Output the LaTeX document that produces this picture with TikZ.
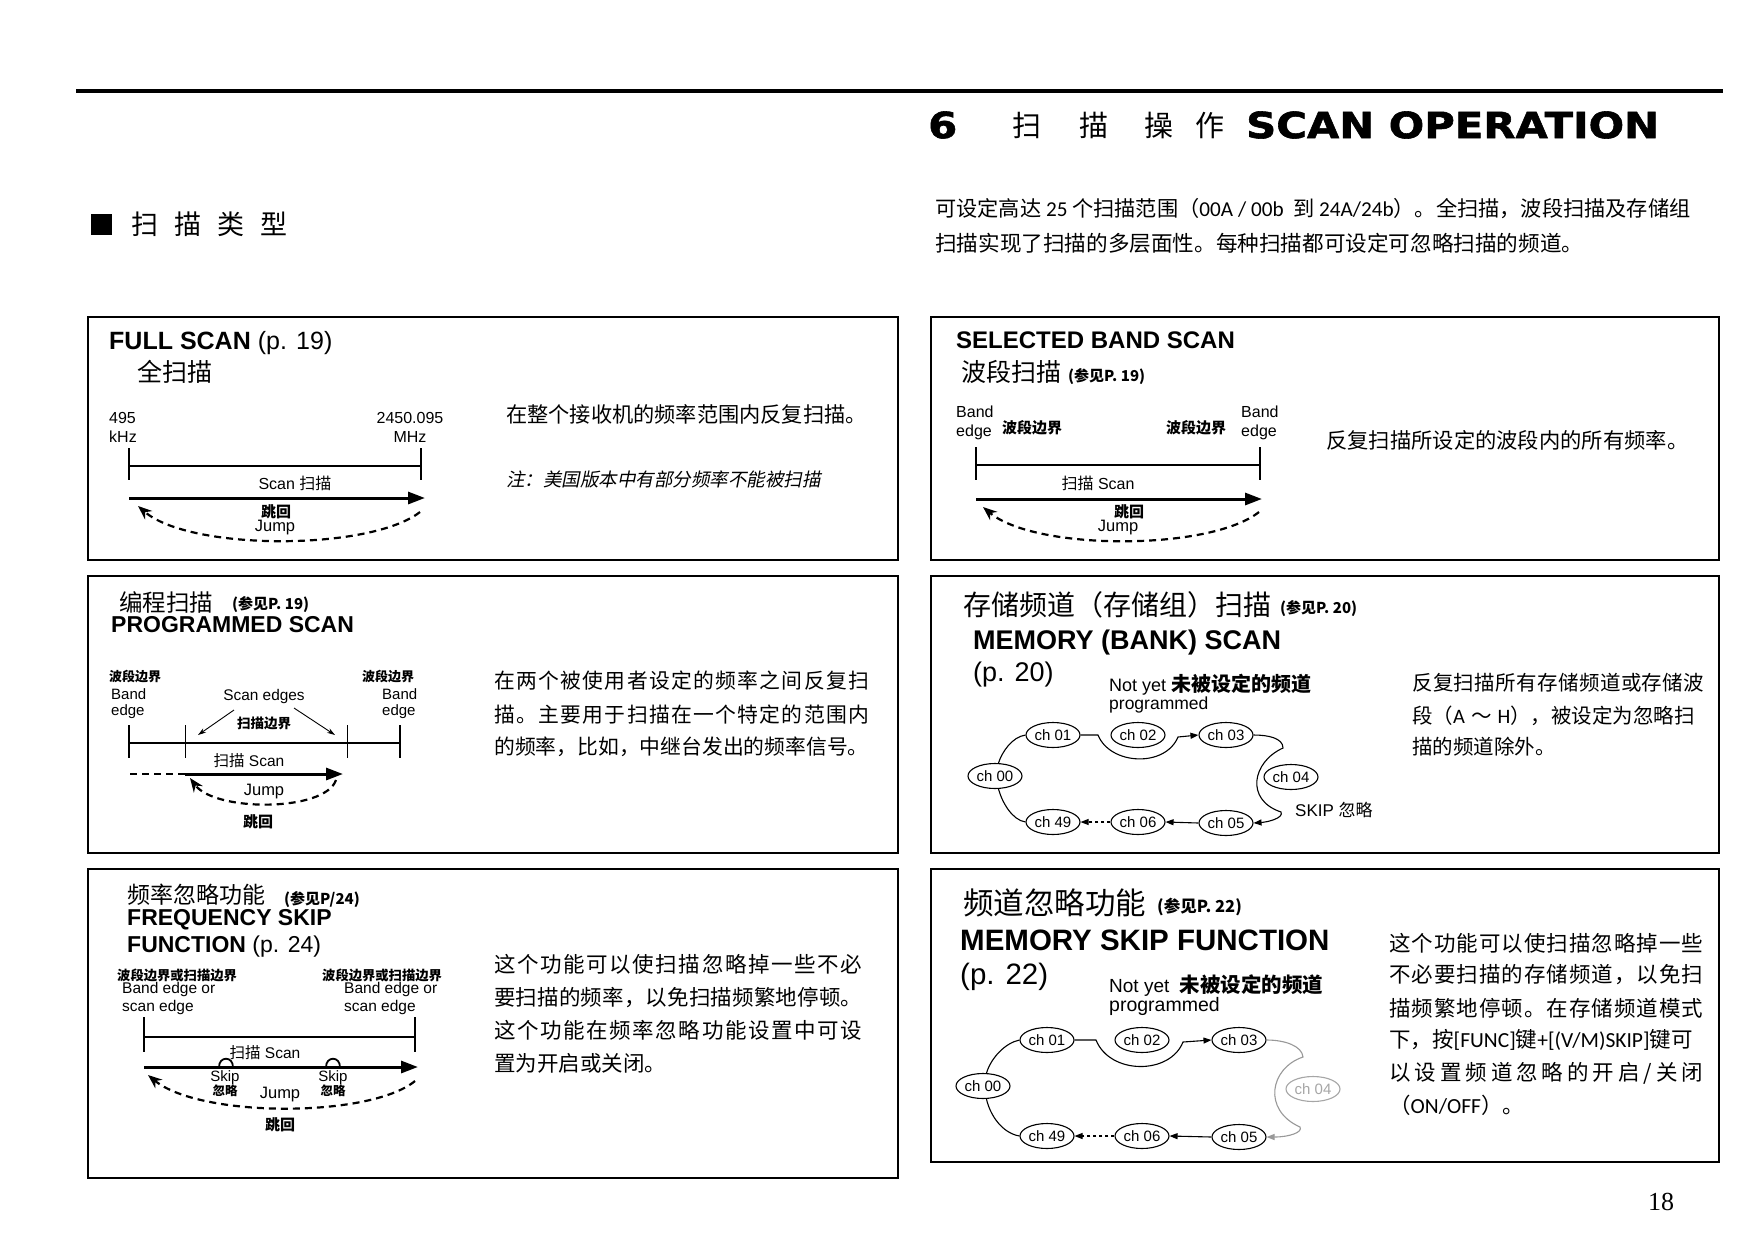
\documentclass[tikz,border=0pt]{standalone}
\usepackage{fontspec}
\setmainfont{Liberation Sans}
\newfontfamily\cjk{Noto Sans CJK SC}
\newfontfamily\cjkit[FakeSlant=0.2]{Noto Sans CJK SC}
\newfontfamily\heavyfont[FakeStretch=1.16,FakeBold=1.6]{DejaVu Sans}
\newfontfamily\pagefont{Liberation Serif}
\newfontfamily\carlito{Carlito}
\usetikzlibrary{arrows.meta,shapes.geometric}
\newcommand\zh[1]{{\cjk #1}}
\newcommand\la[1]{{\carlito #1}}
\newcommand\fsz[1]{\fontsize{#1}{#1}\selectfont}
\makeatletter
\def\spreadtext#1#2{\makebox[#1][s]{\spread@first#2\relax}}
\def\spread@first#1{#1\spread@aux}
\def\spread@aux#1{\ifx#1\relax\else\hspace{0pt plus 1fil}#1\expandafter\spread@aux\fi}
\makeatother
\begin{document}
\begin{tikzpicture}[x=1pt,y=-1pt,
  panel/.style={line width=1.6pt},
  rule/.style={line width=4pt},
  lbl/.style={inner sep=0pt, font=\fsz{16}},
  zhl/.style={inner sep=0pt, font=\cjk\bfseries\fsz{14}},
  para/.style={inner sep=0pt, anchor=west, font=\cjk\fsz{21}},
  head/.style={inner sep=0pt, anchor=west},
  edgeline/.style={line width=1.8pt},
  scanarrow/.style={line width=3pt, -{Triangle[length=17pt,width=12pt]}},
  jumparrow/.style={line width=2.2pt, dash pattern=on 7pt off 5pt, -{Stealth[length=14pt,width=11pt]}},
  thinarrow/.style={line width=0.9pt, -{Stealth[length=8pt,width=5pt]}},
  chnode/.style={draw, ellipse, line width=1.1pt, minimum width=54pt, minimum height=25pt, inner sep=0pt, font=\fsz{15}},
  link/.style={line width=1.1pt},
  linkarrow/.style={line width=1.1pt, -{Triangle[length=8pt,width=6pt]}},
]
\useasboundingbox (0,0) rectangle (1754,1240);
\fill[white] (0,0) rectangle (1754,1240);

% ---------- page header ----------
\draw[rule] (76,91) -- (1723,91);
\node[head, font=\heavyfont\bfseries\fsz{36}] (hsix) at (928,125) {6};
\node[head, font=\cjk\fsz{29}] (hzh) at (1012,125) {扫\hspace{38pt}描\hspace{36pt}操\hspace{22pt}作};
\node[head, font=\heavyfont\bfseries\fsz{36}] (hen) at (1246,125) {SCAN OPERATION};
\node[fill, inner sep=0pt, minimum width=21pt, minimum height=21pt] (bul) at (101,224) {};
\node[head, font=\cjk\fsz{27}] (sect) at (131,224) {扫\hspace{16pt}描\hspace{16pt}类\hspace{16pt}型};
\node[para, font=\cjk\fsz{21.2}] (introA) at (935,209) {可设定高达\la{ 25 }个扫描范围（\la{00A / 00b\ \ }到\la{ 24A/24b}）。全扫描，波段扫描及存储组};
\node[para, font=\cjk\fsz{21.6}] (introB) at (935,243) {扫描实现了扫描的多层面性。每种扫描都可设定可忽略扫描的频道。};
\node[inner sep=0pt, font=\pagefont\fsz{26}] (pg) at (1661,1202) {18};

% ---------- box 1 : FULL SCAN ----------
\draw[panel] (88,317) rectangle (898,560);
\node[head, font=\fsz{25}] (fsT) at (109,343) {\textbf{FULL SCAN} (p. 19)};
\node[head, font=\cjk\fsz{25}] (fsZ) at (137,372) {全扫描};
\node[lbl, anchor=west] (fsA) at (109,418) {495};
\node[lbl, anchor=west] (fsB) at (109,437) {kHz};
\node[lbl] (fsC) at (410,418) {2450.095};
\node[lbl] (fsD) at (410,437) {MHz};
\draw[edgeline] (129,448) -- (129,480) (421,448) -- (421,480) (129,466) -- (421,466);
\node[lbl] (fsSc) at (295,483) {Scan \zh{扫描}};
\coordinate (fsS0) at (129,498); \coordinate (fsS1) at (425,498);
\draw[scanarrow] (fsS0) -- (fsS1);
\node[zhl, font=\cjk\bfseries\fsz{15}] (fsJz) at (276,512) {跳回};
\node[lbl, font=\fsz{16.5}] (fsJ) at (275,528) {Jump};
\coordinate (fsJ0) at (420,512); \coordinate (fsJ1) at (138,506);
\draw[jumparrow] (fsJ0) .. controls (370,551) and (190,551) .. (fsJ1);
\node[para, font=\cjk\fsz{21.2}] (fsP) at (506,414) {在整个接收机的频率范围内反复扫描。};
\node[para, font=\cjkit\fsz{18.5}] (fsN) at (506,479) {注：美国版本中有部分频率不能被扫描};

% ---------- box 2 : SELECTED BAND SCAN ----------
\draw[panel] (931,317) rectangle (1719,560);
\node[head, font=\bfseries\fsz{24}] (sbT) at (956,340) {SELECTED BAND SCAN};
\node[head, font=\cjk\fsz{25}] (sbZ) at (961,372) {波段扫描};
\node[head, font=\cjk\bfseries\fsz{15}] (sbR) at (1068,376) {(参见P. 19)};
\node[lbl, anchor=west] (sbB1) at (956,412) {Band};
\node[lbl, anchor=west] (sbE1) at (956,432) {edge};
\node[zhl, anchor=west, font=\cjk\bfseries\fsz{15}] (sbZ1) at (1002,428) {波段边界};
\node[zhl, anchor=west, font=\cjk\bfseries\fsz{15}] (sbZ2) at (1166,428) {波段边界};
\node[lbl, anchor=west] (sbB2) at (1241,412) {Band};
\node[lbl, anchor=west] (sbE2) at (1241,432) {edge};
\draw[edgeline] (976,447) -- (976,480) (1260,447) -- (1260,480) (976,465) -- (1260,465);
\node[lbl] (sbSc) at (1098,483) {\zh{扫描} Scan};
\coordinate (sbS0) at (976,499); \coordinate (sbS1) at (1262,499);
\draw[scanarrow] (sbS0) -- (sbS1);
\node[zhl, font=\cjk\bfseries\fsz{15}] (sbJz) at (1129,512) {跳回};
\node[lbl, font=\fsz{16.5}] (sbJ) at (1118,528) {Jump};
\coordinate (sbJ0) at (1259,512); \coordinate (sbJ1) at (983,507);
\draw[jumparrow] (sbJ0) .. controls (1210,551) and (1035,551) .. (sbJ1);
\node[para, font=\cjk\fsz{21.3}] (sbP) at (1326,440) {反复扫描所设定的波段内的所有频率。};

% ---------- box 3 : PROGRAMMED SCAN ----------
\draw[panel] (88,576) rectangle (898,853);
\node[head, font=\cjk\fsz{23.5}] (psZ) at (119,602) {编程扫描};
\node[head, font=\cjk\bfseries\fsz{15}] (psR) at (232,604) {(参见P. 19)};
\node[head, font=\bfseries\fsz{23}] (psT) at (111,625) {PROGRAMMED SCAN};
\node[zhl, anchor=west, font=\cjk\bfseries\fsz{13}] (psZ1) at (109,677) {波段边界};
\node[lbl, anchor=west, font=\fsz{15}] (psB1) at (111,694) {Band};
\node[lbl, anchor=west, font=\fsz{15}] (psE1) at (111,712) {edge};
\node[zhl, anchor=west, font=\cjk\bfseries\fsz{13}] (psZ2) at (362,677) {波段边界};
\node[lbl, anchor=west, font=\fsz{15}] (psB2) at (382,694) {Band};
\node[lbl, anchor=west, font=\fsz{15}] (psE2) at (382,712) {edge};
\node[lbl, font=\fsz{15.4}] (psSE) at (264,697) {Scan edges};
\node[zhl, font=\cjk\bfseries\fsz{13.5}] (psSEz) at (264,723) {扫描边界};
\coordinate (psA0) at (234,710); \coordinate (psA1) at (198,735);
\coordinate (psB0) at (294,708); \coordinate (psB1) at (335,735);
\draw[thinarrow] (psA0) -- (psA1);
\draw[thinarrow] (psB0) -- (psB1);
\draw[edgeline] (129,725) -- (129,758) (400,725) -- (400,758) (129,743) -- (400,743);
\draw[line width=1pt] (185,725) -- (185,758) (347,725) -- (347,758);
\node[lbl, font=\fsz{15.5}] (psSc) at (249,761) {\zh{扫描} Scan};
\coordinate (psD0) at (130,774); \coordinate (psS0) at (185,774); \coordinate (psS1) at (343,774);
\draw[scanarrow] (psS0) -- (psS1);
\draw[line width=2pt, dash pattern=on 7pt off 5pt] (psD0) -- (psS0);
\coordinate (psJ0) at (336,780); \coordinate (psJ1) at (190,778);
\draw[jumparrow] (psJ0) .. controls (325,812) and (215,812) .. (psJ1);
\node[lbl, font=\fsz{16.5}] (psJ) at (264,792) {Jump};
\node[zhl, font=\cjk\bfseries\fsz{15}] (psJz) at (258,822) {跳回};
\node[para, font=\cjk\fsz{20.8}] (psP1) at (494,681) {\spreadtext{375pt}{在两个被使用者设定的频率之间反复扫}};
\node[para, font=\cjk\fsz{20.8}] (psP2) at (494,715) {\spreadtext{375pt}{描。主要用于扫描在一个特定的范围内}};
\node[para, font=\cjk\fsz{20.8}] (psP3) at (494,747) {的频率，比如，中继台发出的频率信号。};

% ---------- box 4 : MEMORY (BANK) SCAN ----------
\draw[panel] (931,576) rectangle (1719,853);
\node[head, font=\cjk\fsz{28}] (mbZ) at (963,605) {存储频道（存储组）扫描};
\node[head, font=\cjk\bfseries\fsz{15}] (mbR) at (1280,608) {(参见P. 20)};
\node[head, font=\bfseries\fsz{27}] (mbT) at (973,643) {MEMORY (BANK) SCAN};
\node[head, font=\fsz{27}] (mbPg) at (973,675) {(p. 20)};
\node[head, font=\fsz{18}] (mbNY) at (1109,685) {Not yet \zh{\bfseries\fsz{20}未被设定的频道}};
\node[head, font=\fsz{17.5}] (mbPr) at (1109,705) {programmed};
\node[chnode] (mb00) at (995,776) {ch 00};
\node[chnode] (mb01) at (1053,735) {ch 01};
\node[chnode] (mb02) at (1138,735) {ch 02};
\node[chnode] (mb03) at (1226,735) {ch 03};
\node[chnode] (mb04) at (1291,777) {ch 04};
\node[chnode] (mb05) at (1226,823) {ch 05};
\node[chnode] (mb06) at (1138,822) {ch 06};
\node[chnode] (mb49) at (1053,822) {ch 49};
\draw[link] (mb00.75) .. controls (1002,752) and (1012,737) .. (mb01.west);
\draw[linkarrow] (mb01.east) -- (1098,735) .. controls (1110,765) and (1165,768) .. (1178,737) -- (mb03.west);
\draw[linkarrow] (mb03.east) .. controls (1268,735) and (1283,738) .. (1283,748)
   .. controls (1252,762) and (1245,800) .. (1281,812)
   .. controls (1284,818) and (1268,822) .. (mb05.east);
\draw[linkarrow] (mb05.west) -- (mb06.east);
\draw[linkarrow, dashed] (mb06.west) -- (mb49.east);
\draw[link] (mb49.west) .. controls (1012,820) and (1002,802) .. (mb00.285);
\node[head, font=\fsz{17}] (mbSk) at (1295,810) {SKIP \zh{忽略}};
\node[para, font=\cjk\fsz{20.5}] (mbP1) at (1412,683) {\spreadtext{292pt}{反复扫描所有存储频道或存储波}};
\node[para, font=\cjk\fsz{20.5}] (mbP2) at (1412,716) {段（\la{A}\hspace{6pt}～\hspace{6pt}\la{H}），被设定为忽略扫};
\node[para, font=\cjk\fsz{20.5}] (mbP3) at (1412,747) {描的频道除外。};

% ---------- box 5 : FREQUENCY SKIP FUNCTION ----------
\draw[panel] (88,869) rectangle (898,1178);
\node[head, font=\cjk\fsz{23}] (fqZ) at (127,895) {频率忽略功能};
\node[head, font=\cjk\bfseries\fsz{15}] (fqR) at (284,899) {(参见P/24)};
\node[head, font=\bfseries\fsz{23}] (fqT1) at (127,920) {FREQUENCY SKIP};
\node[head, font=\fsz{23}] (fqT2) at (127,947) {\textbf{FUNCTION} (p. 24)};
\node[zhl, anchor=west, font=\cjk\bfseries\fsz{13.3}] (fqZ1) at (117,975) {波段边界或扫描边界};
\node[lbl, anchor=west, font=\fsz{15.5}] (fqB1) at (122,989) {Band edge or};
\node[lbl, anchor=west, font=\fsz{15.5}] (fqE1) at (122,1007) {scan edge};
\node[zhl, anchor=west, font=\cjk\bfseries\fsz{13.3}] (fqZ2) at (322,975) {波段边界或扫描边界};
\node[lbl, anchor=west, font=\fsz{15.5}] (fqB2) at (344,989) {Band edge or};
\node[lbl, anchor=west, font=\fsz{15.5}] (fqE2) at (344,1007) {scan edge};
\draw[edgeline] (144,1017) -- (144,1052) (415,1017) -- (415,1052) (144,1037) -- (415,1037);
\node[lbl, font=\fsz{15.5}] (fqSc) at (265,1053) {\zh{扫描} Scan};
\coordinate (fqS0) at (144,1067); \coordinate (fqS1) at (418,1067);
\draw[scanarrow] (fqS0) -- (fqS1);
\draw[line width=1.8pt] (219,1067) .. controls (219,1056) and (233,1056) .. (233,1067);
\draw[line width=1.8pt] (326,1067) .. controls (326,1056) and (340,1056) .. (340,1067);
\node[lbl, font=\fsz{15}] (fqK1) at (225,1078) {Skip};
\node[zhl, font=\cjk\bfseries\fsz{12.5}] (fqK1z) at (225,1091) {忽略};
\node[lbl, font=\fsz{15}] (fqK2) at (333,1078) {Skip};
\node[zhl, font=\cjk\bfseries\fsz{12.5}] (fqK2z) at (333,1091) {忽略};
\node[lbl, font=\fsz{16.5}] (fqJ) at (280,1095) {Jump};
\node[zhl, font=\cjk\bfseries\fsz{15}] (fqJz) at (280,1125) {跳回};
\coordinate (fqJ0) at (415,1081); \coordinate (fqJ1) at (148,1075);
\draw[jumparrow] (fqJ0) .. controls (370,1118) and (200,1118) .. (fqJ1);
\node[para, font=\cjk\fsz{21.5}] (fqP1) at (494,964) {\spreadtext{368pt}{这个功能可以使扫描忽略掉一些不必}};
\node[para, font=\cjk\fsz{21.5}] (fqP2) at (494,998) {\spreadtext{368pt}{要扫描的频率，以免扫描频繁地停顿。}};
\node[para, font=\cjk\fsz{21.5}] (fqP3) at (494,1030) {\spreadtext{368pt}{这个功能在频率忽略功能设置中可设}};
\node[para, font=\cjk\fsz{21.5}] (fqP4) at (494,1063) {置为开启或关闭。};

% ---------- box 6 : MEMORY SKIP FUNCTION ----------
\draw[panel] (931,869) rectangle (1719,1162);
\node[head, font=\cjk\fsz{30.5}] (msZ) at (963,903) {频道忽略功能};
\node[head, font=\cjk\bfseries\fsz{16.5}] (msR) at (1157,907) {(参见P. 22)};
\node[head, font=\bfseries\fsz{29.5}] (msT) at (960,940) {MEMORY SKIP FUNCTION};
\node[head, font=\fsz{29.5}] (msPg) at (960,977) {(p. 22)};
\node[head, font=\fsz{19}] (msNY) at (1109,986) {Not yet\ \ \zh{\bfseries\fsz{20.5}未被设定的频道}};
\node[head, font=\fsz{19.5}] (msPr) at (1109,1006) {programmed};
\begin{scope}[every node/.append style={minimum width=58pt, minimum height=25pt, font=\fsz{15.5}}]
\node[chnode] (ms00) at (983,1086) {ch 00};
\node[chnode] (ms01) at (1047,1040) {ch 01};
\node[chnode] (ms02) at (1142,1040) {ch 02};
\node[chnode] (ms03) at (1239,1040) {ch 03};
\node[chnode, draw=black!35, text=black!35] (ms04) at (1313,1089) {ch 04};
\node[chnode] (ms05) at (1239,1137) {ch 05};
\node[chnode] (ms06) at (1142,1136) {ch 06};
\node[chnode] (ms49) at (1047,1136) {ch 49};
\end{scope}
\draw[link] (ms00.75) .. controls (991,1058) and (1005,1043) .. (ms01.west);
\draw[linkarrow] (ms01.east) -- (1096,1040) .. controls (1110,1075) and (1170,1075) .. (1183,1042) -- (ms03.west);
\draw[linkarrow, draw=black!40] (ms03.east) .. controls (1285,1040) and (1302,1046) .. (1303,1057)
   .. controls (1270,1068) and (1262,1110) .. (1300,1127)
   .. controls (1303,1132) and (1290,1137) .. (ms05.east);
\draw[linkarrow] (ms05.west) -- (ms06.east);
\draw[linkarrow, dashed] (ms06.west) -- (ms49.east);
\draw[link] (ms49.west) .. controls (1002,1133) and (990,1115) .. (ms00.285);
\node[para, font=\cjk\fsz{21.5}] (msP1) at (1389,943) {\spreadtext{314pt}{这个功能可以使扫描忽略掉一些}};
\node[para, font=\cjk\fsz{21.5}] (msP2) at (1389,975) {\spreadtext{314pt}{不必要扫描的存储频道，以免扫}};
\node[para, font=\cjk\fsz{21.5}] (msP3) at (1389,1008) {\spreadtext{314pt}{描频繁地停顿。在存储频道模式}};
\node[para, font=\cjk\fsz{21.5}] (msP4) at (1389,1040) {下，按\la{[FUNC]}键\la{+[(V/M)SKIP]}键可};
\node[para, font=\cjk\fsz{21.5}] (msP5) at (1389,1073) {\spreadtext{314pt}{以设置频道忽略的开启/关闭}};
\node[para, font=\cjk\fsz{21.5}] (msP6) at (1389,1105) {（\la{ON/OFF}）。};
\end{tikzpicture}
\end{document}
